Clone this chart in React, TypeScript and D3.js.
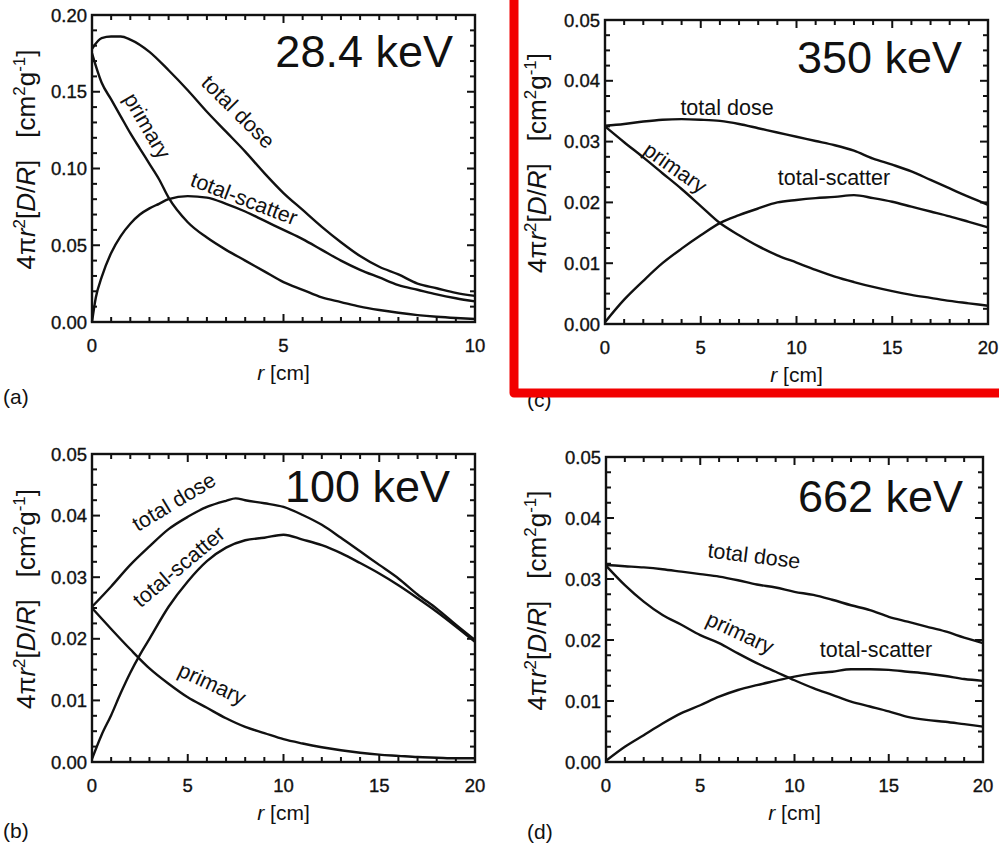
import React from "react";
import * as d3 from "d3";

// ---------- data ----------
// (a) 28.4 keV
const rA_total = [0, 0.25, 0.5, 0.75, 1, 1.5, 2, 2.5, 3, 3.5, 4, 4.5, 5, 5.5, 6, 6.5, 7, 7.5, 8, 8.5, 9, 9.5, 10];
const totalDoseA = [0.178, 0.185, 0.186, 0.186, 0.184, 0.176, 0.164, 0.151, 0.137, 0.124, 0.111, 0.097, 0.084, 0.073, 0.062, 0.052, 0.043, 0.036, 0.031, 0.025, 0.022, 0.019, 0.017];
const rA_primary = [0, 0.25, 0.5, 0.75, 1, 1.25, 1.5, 1.75, 2, 2.5, 3, 3.5, 4, 4.5, 5, 5.5, 6, 6.5, 7, 7.5, 8, 8.5, 9, 9.5, 10];
const primaryA = [0.175, 0.156, 0.145, 0.134, 0.123, 0.113, 0.103, 0.093, 0.081, 0.065, 0.055, 0.047, 0.04, 0.033, 0.026, 0.021, 0.016, 0.013, 0.01, 0.0078, 0.006, 0.0045, 0.0034, 0.0026, 0.002];
const rA_scatter = [0, 0.1, 0.25, 0.5, 0.75, 1, 1.25, 1.5, 1.75, 2, 2.5, 3, 3.5, 4, 4.5, 5, 5.5, 6, 6.5, 7, 7.5, 8, 8.5, 9, 9.5, 10];
const scatterA = [0, 0.016, 0.029, 0.045, 0.056, 0.064, 0.07, 0.074, 0.077, 0.08, 0.082, 0.081, 0.077, 0.072, 0.066, 0.06, 0.054, 0.047, 0.04, 0.034, 0.029, 0.024, 0.021, 0.018, 0.0155, 0.0134];

// (b) 100 keV
const rB_total = [0, 1, 2, 3, 4, 5, 6, 7, 7.5, 8, 9, 10, 11, 12, 13, 14, 15, 16, 17, 18, 19, 20];
const totalDoseB = [0.0252, 0.0285, 0.032, 0.035, 0.0378, 0.0398, 0.0414, 0.0424, 0.0428, 0.0425, 0.042, 0.0414, 0.0401, 0.0385, 0.0364, 0.0342, 0.032, 0.0298, 0.0272, 0.0249, 0.0223, 0.0198];
const rB_scatter = [0, 0.5, 1, 1.5, 2, 2.5, 3, 4, 5, 6, 7, 8, 9, 10, 11, 12, 13, 14, 15, 16, 17, 18, 19, 20];
const scatterB = [0.0005, 0.0044, 0.0076, 0.0112, 0.0145, 0.0174, 0.02, 0.0252, 0.0293, 0.0326, 0.0348, 0.036, 0.0364, 0.0369, 0.0361, 0.0352, 0.0339, 0.0323, 0.0306, 0.0287, 0.0266, 0.0244, 0.022, 0.0195];
const rB_primary = [0, 1, 2, 3, 4, 5, 6, 7, 8, 9, 10, 11, 12, 13, 14, 15, 16, 17, 18, 19, 20];
const primaryB = [0.025, 0.0216, 0.0183, 0.0152, 0.0127, 0.0105, 0.0088, 0.0071, 0.0057, 0.0047, 0.0037, 0.003, 0.0024, 0.0019, 0.0015, 0.0012, 0.001, 0.0008, 0.0007, 0.0006, 0.0006];

// (c) 350 keV
const rC = [0, 1, 2, 3, 4, 5, 6, 7, 8, 9, 10, 11, 12, 13, 14, 15, 16, 17, 18, 19, 20];
const totalDoseC = [0.0326, 0.0329, 0.0333, 0.0336, 0.0337, 0.0336, 0.0334, 0.0329, 0.0322, 0.0315, 0.0308, 0.0301, 0.0294, 0.0285, 0.0272, 0.0262, 0.0251, 0.0237, 0.0223, 0.0209, 0.0196];
const primaryC = [0.0325, 0.0299, 0.0274, 0.0248, 0.0222, 0.0194, 0.0166, 0.0146, 0.0128, 0.0113, 0.0101, 0.0089, 0.0078, 0.0069, 0.0061, 0.0054, 0.0048, 0.0043, 0.0038, 0.0034, 0.003];
const scatterC = [0.0003, 0.004, 0.0071, 0.01, 0.0124, 0.0146, 0.0166, 0.0179, 0.019, 0.02, 0.0204, 0.0207, 0.0209, 0.0212, 0.0207, 0.0201, 0.0193, 0.0185, 0.0177, 0.0168, 0.0159];

// (d) 662 keV
const rD = [0, 1, 2, 3, 4, 5, 6, 7, 8, 9, 10, 11, 12, 13, 14, 15, 16, 17, 18, 19, 20];
const totalDoseD = [0.0323, 0.0321, 0.0319, 0.0316, 0.0312, 0.0308, 0.0304, 0.0298, 0.0291, 0.0286, 0.0279, 0.0274, 0.0266, 0.0257, 0.0249, 0.0238, 0.023, 0.0222, 0.0214, 0.0204, 0.0195];
const primaryD = [0.0322, 0.029, 0.0263, 0.0241, 0.0225, 0.0208, 0.0195, 0.0178, 0.0162, 0.0148, 0.0134, 0.0121, 0.011, 0.0099, 0.0091, 0.0083, 0.0074, 0.0069, 0.0066, 0.0062, 0.0058];
const scatterD = [0.0002, 0.0025, 0.0044, 0.0063, 0.008, 0.0093, 0.0107, 0.0118, 0.0126, 0.0133, 0.014, 0.0145, 0.0148, 0.0152, 0.0152, 0.0151, 0.0148, 0.0145, 0.0141, 0.0136, 0.0133];

const energies = ["28.4 keV", "100 keV", "350 keV", "662 keV"];
const letters = ["(a)", "(b)", "(c)", "(d)"];

// ---------- layout ----------
const FONT = "'Liberation Sans', Arial, Helvetica, sans-serif";

type Label = { text: string; x: number; y: number; rot: number; central: boolean };
type Panel = {
  energy: string; letter: string;
  left: number; right: number; top: number; bottom: number;
  xMax: number; yMax: number; xMajor: number; xMinor: number; yMajor: number; yMinor: number;
  series: { r: number[]; v: number[] }[];
  labels: Label[];
  energyPos: [number, number];
  letterPos: [number, number];
  titleX: number;
};

const panels: Panel[] = [
  {
    energy: energies[0], letter: letters[0],
    left: 92, right: 475, top: 15, bottom: 322,
    xMax: 10, yMax: 0.2, xMajor: 5, xMinor: 0.5, yMajor: 0.05, yMinor: 0.01,
    series: [
      { r: rA_total, v: totalDoseA },
      { r: rA_primary, v: primaryA },
      { r: rA_scatter, v: scatterA },
    ],
    labels: [
      { text: "total dose", x: 238, y: 112, rot: 45, central: true },
      { text: "primary", x: 147, y: 126, rot: 60, central: true },
      { text: "total-scatter", x: 244, y: 199, rot: 21, central: true },
    ],
    energyPos: [453, 67], letterPos: [3, 404], titleX: 35,
  },
  {
    energy: energies[1], letter: letters[1],
    left: 92, right: 475, top: 454, bottom: 762,
    xMax: 20, yMax: 0.05, xMajor: 5, xMinor: 1, yMajor: 0.01, yMinor: 0.0025,
    series: [
      { r: rB_total, v: totalDoseB },
      { r: rB_primary, v: primaryB },
      { r: rB_scatter, v: scatterB },
    ],
    labels: [
      { text: "total dose", x: 174, y: 502, rot: -31, central: true },
      { text: "total-scatter", x: 179, y: 567, rot: -40, central: true },
      { text: "primary", x: 212, y: 684, rot: 25, central: true },
    ],
    energyPos: [450, 502], letterPos: [3, 838], titleX: 35,
  },
  {
    energy: energies[2], letter: letters[2],
    left: 605, right: 988, top: 20, bottom: 324,
    xMax: 20, yMax: 0.05, xMajor: 5, xMinor: 1, yMajor: 0.01, yMinor: 0.0025,
    series: [
      { r: rC, v: totalDoseC },
      { r: rC, v: primaryC },
      { r: rC, v: scatterC },
    ],
    labels: [
      { text: "total dose", x: 727, y: 115, rot: 0, central: false },
      { text: "primary", x: 675, y: 168, rot: 35, central: true },
      { text: "total-scatter", x: 834, y: 185, rot: 0, central: false },
    ],
    energyPos: [962, 73], letterPos: [527, 407], titleX: 546,
  },
  {
    energy: energies[3], letter: letters[3],
    left: 606, right: 983, top: 457, bottom: 762,
    xMax: 20, yMax: 0.05, xMajor: 5, xMinor: 1, yMajor: 0.01, yMinor: 0.0025,
    series: [
      { r: rD, v: totalDoseD },
      { r: rD, v: primaryD },
      { r: rD, v: scatterD },
    ],
    labels: [
      { text: "total dose", x: 754, y: 556, rot: 7, central: true },
      { text: "primary", x: 740, y: 633, rot: 25, central: true },
      { text: "total-scatter", x: 876, y: 657, rot: 0, central: false },
    ],
    energyPos: [963, 512], letterPos: [527, 839], titleX: 546,
  },
];

const MAJOR = 8;
const MINOR = 5;

function PanelView({ p }: { p: Panel }) {
  const x = d3.scaleLinear().domain([0, p.xMax]).range([p.left, p.right]);
  const y = d3.scaleLinear().domain([0, p.yMax]).range([p.bottom, p.top]);
  const line = d3
    .line<[number, number]>()
    .x((d) => x(d[0]))
    .y((d) => y(d[1]))
    .curve(d3.curveMonotoneX);

  const eps = 1e-9;
  const isMajor = (t: number, step: number) => Math.abs(t / step - Math.round(t / step)) < 1e-6;
  const xMajorT = d3.range(0, p.xMax + eps, p.xMajor);
  const xMinorT = d3.range(0, p.xMax + eps, p.xMinor).filter((t) => !isMajor(t, p.xMajor));
  const yMajorT = d3.range(0, p.yMax + eps, p.yMajor);
  const yMinorT = d3.range(0, p.yMax + eps, p.yMinor).filter((t) => !isMajor(t, p.yMajor));
  const fmtY = d3.format(".2f");

  const ticks: { x1: number; y1: number; x2: number; y2: number }[] = [];
  const addX = (t: number, len: number) => {
    const px = x(t);
    ticks.push({ x1: px, y1: p.bottom, x2: px, y2: p.bottom - len });
    ticks.push({ x1: px, y1: p.top, x2: px, y2: p.top + len });
  };
  const addY = (t: number, len: number) => {
    const py = y(t);
    ticks.push({ x1: p.left, y1: py, x2: p.left + len, y2: py });
    ticks.push({ x1: p.right, y1: py, x2: p.right - len, y2: py });
  };
  xMajorT.forEach((t) => addX(t, MAJOR));
  xMinorT.forEach((t) => addX(t, MINOR));
  yMajorT.forEach((t) => addY(t, MAJOR));
  yMinorT.forEach((t) => addY(t, MINOR));

  const cy = (p.top + p.bottom) / 2 - 9;
  const cx = (p.left + p.right) / 2;

  return (
    <g>
      {p.series.map((s, i) => (
        <path
          key={i}
          d={line(s.r.map((r, k) => [r, s.v[k]] as [number, number])) || ""}
          fill="none"
          stroke="#111"
          strokeWidth={2.4}
          strokeLinejoin="round"
        />
      ))}
      <rect x={p.left} y={p.top} width={p.right - p.left} height={p.bottom - p.top} fill="none" stroke="#111" strokeWidth={2.4} />
      <g stroke="#111" strokeWidth={2}>
        {ticks.map((t, i) => (
          <line key={i} x1={t.x1} y1={t.y1} x2={t.x2} y2={t.y2} />
        ))}
      </g>

      <g stroke="#111" strokeWidth={0.35}>
        {yMajorT.map((t) => (
          <text key={"y" + t} x={p.left - 5} y={y(t)} textAnchor="end" dominantBaseline="central" fontSize={18.5}>
            {fmtY(t)}
          </text>
        ))}
        {xMajorT.map((t) => (
          <text key={"x" + t} x={x(t)} y={p.bottom + 30} textAnchor="middle" fontSize={18.5}>
            {t}
          </text>
        ))}
      </g>

      <text x={cx} y={p.bottom + 58} textAnchor="middle" fontSize={21}>
        <tspan fontStyle="italic">r</tspan> [cm]
      </text>

      <text transform={`translate(${p.titleX},${cy}) rotate(-90)`} textAnchor="middle" fontSize={26}>
        4π<tspan fontStyle="italic">r</tspan>
        <tspan dy={-10} fontSize={17}>2</tspan>
        <tspan dy={10}>[</tspan>
        <tspan fontStyle="italic">D</tspan>/<tspan fontStyle="italic">R</tspan>]
        <tspan dx={22}>[cm</tspan>
        <tspan dy={-10} fontSize={17}>2</tspan>
        <tspan dy={10}>g</tspan>
        <tspan dy={-10} fontSize={17}>-1</tspan>
        <tspan dy={10}>]</tspan>
      </text>

      <text x={p.energyPos[0]} y={p.energyPos[1]} textAnchor="end" fontSize={45}>
        {p.energy}
      </text>

      {p.labels.map((l, i) => (
        <text
          key={i}
          transform={`translate(${l.x},${l.y}) rotate(${l.rot})`}
          textAnchor="middle"
          dominantBaseline={l.central ? "central" : "auto"}
          fontSize={21.5}
        >
          {l.text}
        </text>
      ))}

      <text x={p.letterPos[0]} y={p.letterPos[1]} fontSize={21}>
        {p.letter}
      </text>
    </g>
  );
}

export default function App() {
  return (
    <svg
      width={999}
      height={849}
      viewBox="0 0 999 849"
      style={{ position: "absolute", left: 0, top: 0, background: "#fff" }}
      fontFamily={FONT}
      fill="#111"
    >
      <rect x={0} y={0} width={999} height={849} fill="#fff" />
      {panels.map((p, i) => (
        <PanelView key={i} p={p} />
      ))}
      <path d="M514,-10V393H1010" fill="none" stroke="#f20000" strokeWidth={9} strokeLinejoin="round" />
    </svg>
  );
}
